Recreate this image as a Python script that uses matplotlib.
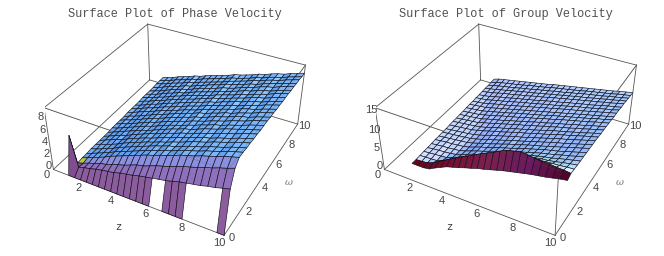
import numpy as np
import matplotlib
matplotlib.use('Agg')
import matplotlib.pyplot as plt
from mpl_toolkits.mplot3d import proj3d
from mpl_toolkits.mplot3d.art3d import Poly3DCollection

# view fitted to the box corners of the reference
AZ, EL, FOC, ASP = -61.61, 35.88, 0.4488, 0.4

z_grid = [1, 1.375, 1.75, 2.125, 2.5, 2.875, 3.25, 3.625, 4, 4.375, 4.75, 5.125, 5.5,
          5.875, 6.25, 6.625, 7, 7.375, 7.75, 8.125, 8.5, 8.875, 9.25, 9.625, 10]
phase_w = [0, 0.417, 0.833, 1.25, 1.667, 2.083, 2.5, 2.917, 3.333, 3.75, 4.167, 4.583, 5,
           5.417, 5.833, 6.25, 6.667, 7.083, 7.5, 7.917, 8.333, 8.75, 9.167, 9.583, 10]
group_w = [1.1, 1.47, 1.84, 2.21, 2.58, 2.95, 3.33, 3.7, 4.07, 4.44, 4.81, 5.18, 5.55,
           5.92, 6.29, 6.66, 7.03, 7.4, 7.78, 8.15, 8.52, 8.89, 9.26, 9.63, 10]
z_ticks = [0, 2, 4, 6, 8, 10]
w_ticks = [0, 2, 4, 6, 8, 10]
phase_ticks = [0, 2, 4, 6, 8]
group_ticks = [0, 5, 10, 15]
phase_max = 10.0
group_max = 16.6

# heights in tenths, one row per omega
phase_rows = [
    [0]*25,
    [59,10,13,15,18,20,22,24,27,29,31,34,36,38,40,42,45,48,50,52,54,57,59,62,65],
    [6,9,13,16,20,22,26,29,32,36,40,42,46,50,53,56,60,64,67,70,74,77,81,84,88],
    [7,11,15,19,23,28,32,36,40,44,48,52,55,59,62,66,70,73,76,80,83,86,90,93,96],
    [7,11,15,19,23,28,32,36,40,44,48,52,55,59,62,66,70,73,76,80,83,86,90,93,96],
    [8,11,15,19,23,28,32,36,40,44,48,52,55,59,61,65,69,72,75,79,82,85,89,92,95],
    [8,12,15,19,23,28,32,36,40,44,47,51,54,58,61,65,69,72,75,79,82,85,89,92,95],
    [8,12,16,20,23,28,32,36,40,43,47,51,54,58,61,65,68,72,74,78,81,84,88,91,94],
    [8,12,16,20,23,28,32,36,40,43,47,51,54,58,61,64,68,71,74,78,81,84,88,91,94],
    [8,12,16,20,24,28,32,35,39,43,47,51,54,58,60,64,68,71,74,78,81,84,87,90,93],
    [9,12,16,20,24,28,32,35,39,43,47,50,53,57,60,64,67,71,73,77,80,83,87,90,93],
    [9,13,16,20,24,28,32,35,39,43,46,50,53,57,60,63,67,70,73,77,80,83,87,90,93],
    [9,13,16,20,24,28,32,35,39,43,46,50,53,57,59,63,67,70,73,77,80,82,86,89,92],
    [9,13,16,20,24,28,32,35,39,43,46,50,53,57,59,63,66,70,72,76,79,82,86,89,92],
    [10,13,17,21,24,28,32,35,39,42,46,49,52,56,59,62,66,69,72,76,79,81,85,88,91],
    [10,13,17,21,24,28,32,35,39,42,46,49,52,56,59,62,65,69,71,75,78,81,85,88,91],
    [10,13,17,21,24,28,32,35,39,42,46,49,52,56,58,62,65,69,71,75,78,80,84,87,90],
    [10,14,17,21,24,28,32,35,39,42,45,49,52,56,58,61,65,68,71,75,78,80,84,87,90],
    [11,14,17,21,24,28,32,35,39,42,45,48,51,55,58,61,64,68,70,74,77,80,84,87,90],
    [11,14,17,21,25,28,32,34,38,42,45,48,51,55,57,61,64,68,70,74,77,79,83,86,89],
    [11,14,17,21,25,28,32,34,38,42,45,48,51,55,57,60,64,67,70,74,77,79,83,86,89],
    [11,14,18,22,25,28,32,34,38,41,45,48,51,55,57,60,63,67,69,73,76,79,82,85,88],
    [12,15,18,22,25,28,32,34,38,41,44,47,50,54,57,60,63,67,69,73,76,78,82,85,88],
    [12,15,18,22,25,28,32,34,38,41,44,47,50,54,56,59,62,66,68,72,75,77,81,84,87],
    [12,15,18,22,25,28,32,34,38,41,44,47,50,54,56,59,62,66,68,72,75,77,81,84,87],
]
group_rows = [
    [0,0,0,3,12,20,28,33,38,44,49,55,59,64,69,74,78,82,86,90,93,96,100,104,107],
    [0,1,3,9,19,28,38,48,57,65,74,83,91,99,108,116,120,124,122,120,118,118,116,115,113],
    [1,2,3,4,11,19,27,35,43,50,57,65,72,79,86,94,98,103,104,105,106,108,109,111,112],
    [2,3,5,6,8,14,21,28,35,41,48,54,61,67,74,80,85,90,93,96,98,101,105,108,111],
    [2,4,6,7,9,12,18,24,31,36,42,48,55,60,66,72,77,82,86,90,93,98,102,106,110],
    [3,5,7,8,10,12,17,23,29,34,40,46,52,57,62,68,73,78,83,87,91,96,100,105,110],
    [4,6,8,9,11,13,17,23,29,33,39,45,50,55,60,66,71,76,81,85,89,94,99,104,109],
    [4,6,8,10,12,14,18,23,29,33,39,44,50,54,60,65,70,74,79,84,89,94,99,104,109],
    [5,7,9,11,13,15,19,24,29,34,39,44,50,54,59,64,69,74,79,84,88,93,98,103,108],
    [5,7,9,11,13,16,20,25,31,35,40,45,50,54,59,64,69,74,79,84,88,93,98,103,108],
    [6,8,10,12,14,18,22,27,32,36,41,46,51,55,60,65,69,74,79,84,88,93,98,102,107],
    [7,9,11,13,15,18,22,27,32,36,41,46,50,55,59,64,69,74,78,82,87,91,96,101,105],
    [7,9,11,13,15,20,24,29,33,38,42,47,51,56,60,65,69,74,78,82,87,91,96,100,105],
    [8,10,12,14,16,21,25,29,33,38,42,47,51,56,60,64,69,73,77,82,86,90,95,99,104],
    [8,10,12,14,18,22,26,31,35,39,43,48,52,56,61,65,69,74,78,82,86,90,95,99,103],
    [9,11,13,15,19,23,27,31,35,40,44,48,52,56,60,65,69,73,77,81,85,89,94,97,102],
    [10,12,14,16,20,24,28,32,36,40,44,48,52,56,60,64,68,72,76,80,84,88,92,96,100],
    [10,12,14,18,22,26,29,33,37,41,45,49,53,57,61,65,69,73,76,80,84,88,92,96,100],
    [11,13,15,19,23,26,30,34,38,42,45,49,53,57,60,64,68,72,76,79,83,87,91,94,99],
    [11,13,16,20,24,27,31,35,38,42,45,49,53,57,60,64,68,71,75,78,82,86,90,93,97],
    [12,15,18,22,26,29,32,36,39,43,47,50,54,58,61,65,68,72,75,79,82,86,89,93,97],
    [13,16,19,23,26,30,33,37,40,43,47,50,54,57,61,64,68,71,74,78,81,85,88,92,95],
    [13,17,21,24,27,30,34,37,40,44,47,50,54,57,60,64,67,71,74,77,80,84,87,90,94],
    [14,18,22,25,28,31,34,38,41,44,47,51,54,57,60,63,66,70,73,76,79,82,86,89,92],
    [15,20,23,26,29,32,35,38,41,44,47,51,54,57,60,63,66,69,72,75,78,81,85,88,91],
]
# cells of the lowest row that are absent in the left surface
phase_gaps = [13, 14, 18, 19, 20, 21, 22]


def shade(p, fill):
    # three coloured lights fixed to the view, plus a bit of fill
    az, el = np.deg2rad(AZ), np.deg2rad(EL)
    w = np.array([np.cos(el)*np.cos(az), np.cos(el)*np.sin(az), np.sin(el)])
    u = np.array([-np.sin(az), np.cos(az), 0])
    v = np.cross(w, u)
    n = np.cross(p[2]-p[0], p[3]-p[1])
    n = n/max(np.linalg.norm(n), 1e-9)
    nv = np.array([n@u, n@v, n@w])
    r = max(0, nv@np.array([1, 0, 1])/np.sqrt(2))
    g = max(0, nv@np.array([1, 1, 1])/np.sqrt(3))
    b = max(0, nv@np.array([0, 1, 1])/np.sqrt(2))
    return (min(r+fill[0], 1), min(g+fill[1], 1), min(b+fill[2], 1))


def label(ax, x, y, z, s, **kw):
    xs, ys, _ = proj3d.proj_transform(x, y, z, ax.get_proj())
    ax.text2D(xs, ys, s, transform=ax.transData, ha='center', va='center', **kw)


def setup(left_px, zmax):
    ax = fig.add_axes([left_px/664, 3.2/256, 265.3/664, 265.3/256], projection='3d')
    ax.view_init(elev=EL, azim=AZ)
    ax.set_proj_type('persp', focal_length=FOC)
    ax.set_box_aspect((1, 1, ASP))
    ax.set_xlim(0, 10)
    ax.set_ylim(0, 10)
    ax.set_zlim(0, zmax)
    ax.set_axis_off()
    ax.computed_zorder = False
    ax.patch.set_alpha(0)
    return ax


def dress(ax, left_px, title, zmax, v_ticks):
    col = '#555555'
    edges = [[(0,0,0),(10,0,0)],[(10,0,0),(10,10,0)],[(10,10,0),(0,10,0)],[(0,10,0),(0,0,0)],
             [(0,0,0),(0,0,1)],[(0,10,0),(0,10,1)],[(10,10,0),(10,10,1)],[(10,0,0),(10,0,1)],
             [(0,0,1),(0,10,1)],[(0,10,1),(10,10,1)],[(0,0,1),(10,0,1)],[(10,0,1),(10,10,1)]]
    for a, b in edges:
        ax.plot([a[0], b[0]], [a[1], b[1]], [a[2]*zmax, b[2]*zmax], color=col, lw=0.6, zorder=1)
    for a, b in edges[10:]:
        ax.plot([a[0], b[0]], [a[1], b[1]], [a[2]*zmax, b[2]*zmax], color=col, lw=0.5, alpha=0.3, zorder=3)
    tk = dict(fontsize=8, color='#444444', family='Liberation Sans')
    for t in z_ticks:
        label(ax, t, -0.55, 0, str(t), **tk)
    for t in w_ticks:
        label(ax, 10.4, t, 0, str(t), **tk)
    for t in v_ticks:
        label(ax, -0.3, 0, t+0.03*zmax, str(t), **tk)
    label(ax, 5.3, -1.9, 0, 'z', fontsize=7.5, color='#333333', family='Liberation Mono')
    label(ax, 11.35, 5, 0, 'ω', fontsize=7, color='#777777', family='DejaVu Serif', style='italic')
    fig.text((left_px+130)/664, 1-13.5/256, title, ha='center', va='center',
             fontsize=8.6, color='#505050', family='Liberation Mono')


def cell(vals, w, j, i):
    return [(z_grid[i], w[j], vals[j][i]), (z_grid[i+1], w[j], vals[j][i+1]),
            (z_grid[i+1], w[j+1], vals[j+1][i+1]), (z_grid[i], w[j+1], vals[j+1][i])]


def draw_phase(ax, vals, zmax):
    polys, cols = [], []
    band = {0: (.55, .36, .62), 1: (.56, .44, .74), 2: (.54, .56, .88)}
    for j in range(24):
        for i in range(24):
            if j == 0 and i in phase_gaps:
                continue
            q = cell(vals, phase_w, j, i)
            polys.append(q)
            if i == 0 and j < 2:
                cols.append((.50, .30, .56))
            elif i == 0 and j == 2:
                cols.append((.72, .78, .25))
            elif j in band:
                cols.append(band[j])
            else:
                cols.append(shade(np.array(q)/np.array([10, 10, zmax])*np.array([1, 1, ASP]), (.36, .12, .07)))
    ax.add_collection3d(Poly3DCollection(polys, facecolors=cols, edgecolors='#101018', linewidths=0.45, zorder=2))


def draw_group(ax, vals, zmax):
    polys, cols = [], []
    wall_i = [0, 6, 12, 18, 24]
    wall_r = [.44, .46, .48, .42, .31]
    wall_g = [.0, .06, .13, .10, .0]
    wall_b = [.12, .20, .31, .38, .12]
    for j in range(24):
        for i in range(24):
            q = cell(vals, group_w, j, i)
            polys.append(q)
            if j == 0:
                cols.append((np.interp(i, wall_i, wall_r), np.interp(i, wall_i, wall_g), np.interp(i, wall_i, wall_b)))
            else:
                cols.append(shade(np.array(q)/np.array([10, 10, zmax])*np.array([1, 1, ASP]), (.46, .12, .07)))
    ax.add_collection3d(Poly3DCollection(polys, facecolors=cols, edgecolors='#101018', linewidths=0.45, zorder=2))


fig = plt.figure(figsize=(6.64, 2.56), dpi=100)

ax1 = setup(44.9, phase_max)
dress(ax1, 44.9, 'Surface Plot of Phase Velocity', phase_max, phase_ticks)
draw_phase(ax1, np.array(phase_rows)/10, phase_max)

ax2 = setup(375.9, group_max)
dress(ax2, 375.9, 'Surface Plot of Group Velocity', group_max, group_ticks)
draw_group(ax2, np.array(group_rows)/10, group_max)

fig.savefig('out.png', dpi=100)
